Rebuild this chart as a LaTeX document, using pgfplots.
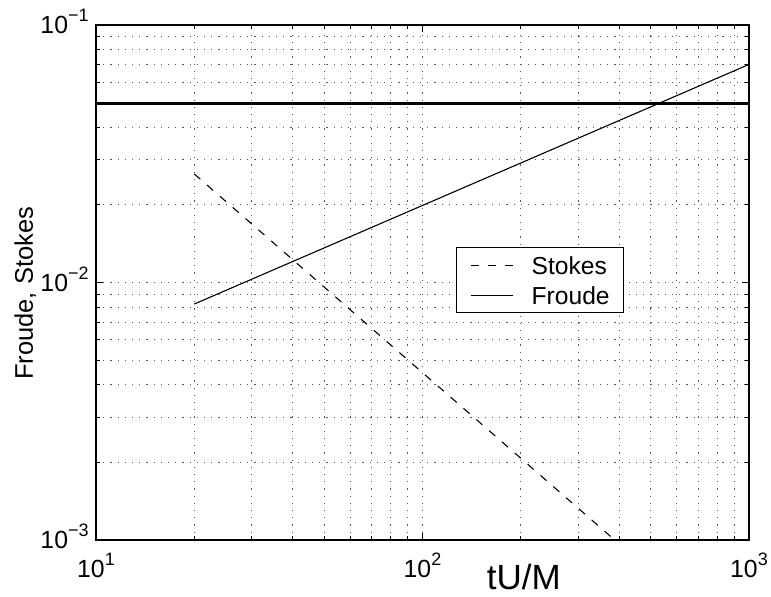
\documentclass[border=0pt]{standalone}
\usepackage{fontspec}
\setmainfont{Liberation Sans}
\usepackage{pgfplots}
\pgfplotsset{compat=1.18}
\newcommand\ex[1]{\raisebox{6pt}{\fontsize{9}{10}\selectfont#1}}

\begin{document}
\begin{tikzpicture}
  \useasboundingbox (-48pt,-28pt) rectangle (337.5pt,270pt);
  \begin{axis}[
    xmode=log, ymode=log,
    scale only axis, width=326.5pt, height=257.5pt,
    xmin=10, xmax=1000, ymin=1e-3, ymax=1e-1,
    xtick={10,100,1000},
    xticklabels={10\ex{1},10\ex{2},10\ex{3}},
    ytick={0.001,0.01,0.1},
    yticklabels={10\ex{−3},10\ex{−2},10\ex{−1}},
    tick label style={font=\fontsize{12.4}{14}\selectfont, inner sep=0pt},
    xticklabel style={anchor=base, yshift=-18.5pt},
    yticklabel style={anchor=base east, xshift=-3.5pt, yshift=-4.4pt},
    grid=both,
    major grid style={black!65, line width=0.5pt, dash pattern=on 0.6pt off 3pt},
    minor grid style={black!65, line width=0.5pt, dash pattern=on 0.6pt off 3pt},
    tick align=inside,
    major tick length=3.5pt, minor tick length=2pt,
    every tick/.style={black, line width=0.5pt},
    axis line style={line width=0.8pt},
    xlabel={tU/M},
    xlabel style={at={(axis description cs:0.655,-0.097)}, anchor=base,
      font=\fontsize{17.5}{20}\selectfont},
    ylabel={Froude, Stokes},
    ylabel style={at={(axis description cs:-0.0965,0.479)}, anchor=base,
      font=\fontsize{12.75}{15}\selectfont},
    legend image code/.code={\draw[#1] (0pt,0pt) -- (21pt,0pt);},
    legend style={at={(0.5513,0.5689)}, anchor=north west, draw=black,
      line width=0.6pt, font=\fontsize{12.3}{14}\selectfont,
      inner xsep=7pt, inner ysep=4.3pt, row sep=6pt, column sep=9pt,
      nodes={inner sep=0pt, text height=9pt, text depth=0pt},
      cells={anchor=west}},
  ]
  \addplot[black, line width=0.55pt, dash pattern=on 4pt off 4.5pt]
    coordinates {(20,0.0264)(388,0.001)};
  \addlegendentry{Stokes}
  \addplot[black, line width=0.55pt]
    coordinates {(20,0.00825)(1000,0.0703)};
  \addlegendentry{Froude}
  \addplot[black, line width=1.35pt, forget plot]
    coordinates {(10,0.0497)(1000,0.0497)};
  \end{axis}
\end{tikzpicture}
\end{document}
